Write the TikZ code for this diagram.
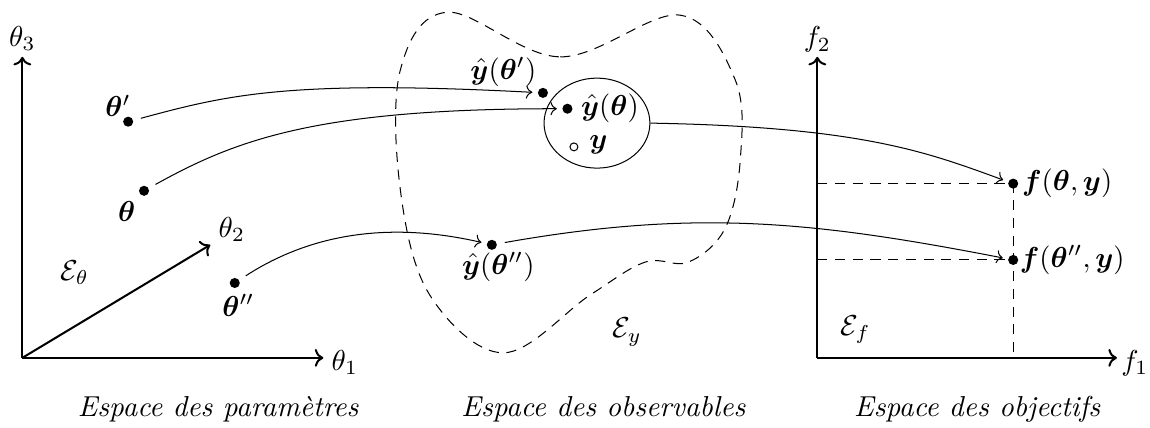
\documentclass[tikz,border=0pt]{standalone}
\usepackage{amsmath,bm}
\usetikzlibrary{arrows.meta,positioning,shapes.geometric}
\tikzset{
  dotpt/.style={circle, fill, inner sep=0pt, minimum size=1.4mm},
  opencirc/.style={circle, draw, thin, inner sep=0pt, minimum size=1.1mm},
  axis/.style={->, thick},
  map/.style={->, shorten <=3pt, shorten >=2pt},
  proj/.style={dashed, dash pattern=on 4pt off 3pt},
  lbl/.style={inner sep=1pt, scale=1.14},
  caption/.style={font=\itshape, scale=1.14},
}

\begin{document}
\begin{tikzpicture}
    \useasboundingbox (0,0) rectangle (15.97,5.93);
    % espace des parametres
    \coordinate (o1) at (0.31,0.96);
    \coordinate (t1) at (4.49,0.96);
    \coordinate (t2) at (2.92,2.53);
    \coordinate (t3) at (0.31,5.14);
    \draw[axis] (o1) -- (t1);
    \draw[axis] (o1) -- (t2);
    \draw[axis] (o1) -- (t3);
    \node[lbl] (t1l) at (4.79,0.90) {$\theta_1$};
    \node[lbl] (t2l) at (3.22,2.74) {$\theta_2$};
    \node[lbl] (t3l) at (0.31,5.40) {$\theta_3$};
    \node[lbl] (etheta) at (1.04,2.14) {$\mathcal{E}_\theta$};
    \node[dotpt] (thp) at (1.78,4.24) {};
    \node[dotpt] (th) at (2.00,3.28) {};
    \node[dotpt] (thpp) at (3.26,2.00) {};
    \node[lbl] (thpl) at (1.64,4.46) {$\bm{\theta}'$};
    \node[lbl] (thl) at (1.76,2.99) {$\bm{\theta}$};
    \node[lbl] (thppl) at (3.31,1.69) {$\bm{\theta}''$};
    % espace des observables
    \draw[proj] plot[smooth cycle, tension=0.6] coordinates {
      (6.21,5.76) (7.78,5.14) (9.44,5.72) (10.21,4.82) (10.28,3.71)
      (10.07,2.76) (9.56,2.29) (8.96,2.29) (8.19,1.83) (6.99,1.03)
      (5.97,1.83) (5.56,3.29) (5.56,4.96)};
    \node[draw, ellipse, minimum width=1.47cm, minimum height=1.25cm] (ell) at (8.29,4.22) {};
    \node[dotpt] (yhp) at (7.54,4.64) {};
    \node[dotpt] (yh) at (7.88,4.42) {};
    \node[opencirc] (yobs) at (7.97,3.89) {};
    \node[dotpt] (yhpp) at (6.83,2.53) {};
    \node[lbl] (yhpl) at (6.99,4.93) {$\hat{\bm{y}}(\bm{\theta}')$};
    \node[lbl] (yhl) at (8.47,4.43) {$\hat{\bm{y}}(\bm{\theta})$};
    \node[lbl] (yobsl) at (8.31,3.92) {$\bm{y}$};
    \node[lbl] (yhppl) at (6.92,2.22) {$\hat{\bm{y}}(\bm{\theta}'')$};
    \node[lbl] (ey) at (8.71,1.32) {$\mathcal{E}_y$};
    % espace des objectifs
    \coordinate (o2) at (11.35,0.96);
    \coordinate (f1) at (15.51,0.96);
    \coordinate (f2) at (11.35,5.14);
    \draw[axis] (o2) -- (f1);
    \draw[axis] (o2) -- (f2);
    \node[lbl] (f1l) at (15.76,0.89) {$f_1$};
    \node[lbl] (f2l) at (11.35,5.38) {$f_2$};
    \node[lbl] (ef) at (11.88,1.35) {$\mathcal{E}_f$};
    \node[dotpt] (fth) at (14.07,3.38) {};
    \node[dotpt] (fthpp) at (14.07,2.32) {};
    \node[lbl] (fthl) at (14.82,3.39) {$\bm{f}(\bm{\theta},\bm{y})$};
    \node[lbl] (fthppl) at (14.89,2.32) {$\bm{f}(\bm{\theta}'',\bm{y})$};
    \draw[proj] (o2 |- fth) -- (fth.center) -- (fth |- o2);
    \draw[proj] (o2 |- fthpp) -- (fthpp.center);
    % applications
    \draw[map] (thp) to[out=15, in=177, out looseness=0.6, in looseness=1.6] (yhp);
    \draw[map] (th) to[out=29, in=180, out looseness=0.6, in looseness=1.5] (yh);
    \draw[map] (thpp) to[out=33, in=167, out looseness=0.8, in looseness=1.1] (yhpp);
    \draw[map, shorten <=0pt] (ell.east) to[out=-1, in=160, out looseness=1.5, in looseness=0.6] (fth);
    \draw[map] (yhpp) to[out=10, in=169] (fthpp);
    % legendes
    \node[caption] (cpar) at (3.03,0.24) {Espace des paramètres};
    \node[caption] (cobs) at (8.38,0.24) {Espace des observables};
    \node[caption] (cobj) at (13.57,0.24) {Espace des objectifs};
\end{tikzpicture}
\end{document}
